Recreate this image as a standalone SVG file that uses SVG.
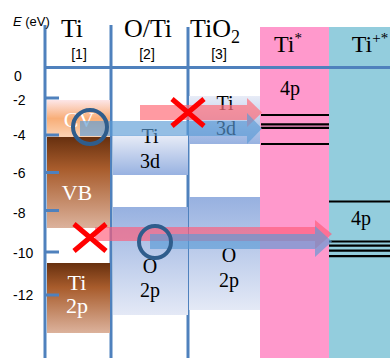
<svg xmlns="http://www.w3.org/2000/svg" width="390" height="358" viewBox="0 0 390 358">
<defs>
<style>
.ax{stroke:#4f81bd;stroke-width:3;fill:none}
.tk{stroke:#4f81bd;stroke-width:3}
.lab{font-family:"Liberation Sans",Arial,sans-serif;font-size:14px;fill:#000}
.ref{font-family:"Liberation Sans",Arial,sans-serif;font-size:14px;fill:#000;text-anchor:middle}
.hd{font-family:"Liberation Serif","Times New Roman",serif;font-size:26px;fill:#000;text-anchor:middle}
.st{font-family:"Liberation Serif","Times New Roman",serif;font-size:20px;fill:#000;text-anchor:middle}
.wt{font-family:"Liberation Serif","Times New Roman",serif;font-size:22px;fill:#fff;text-anchor:middle}
.lv{stroke:#000;stroke-width:2.2}
.xm{stroke:#ff0000;stroke-width:5;fill:none}
.ci{stroke:#2f5d8c;stroke-width:4;fill:none}
</style>
<linearGradient id="gCV" x1="0" y1="0" x2="0" y2="1">
<stop offset="0" stop-color="#fde6e8"/><stop offset="0.5" stop-color="#f8ae78"/><stop offset="1" stop-color="#fcd3b4"/>
</linearGradient>
<linearGradient id="gBr" x1="0" y1="0" x2="0" y2="1">
<stop offset="0" stop-color="#67300f"/><stop offset="0.35" stop-color="#a85c2c"/><stop offset="1" stop-color="#dcb29c"/>
</linearGradient>
<linearGradient id="gDn" x1="0" y1="0" x2="0" y2="1">
<stop offset="0" stop-color="#e8ecf7"/><stop offset="1" stop-color="#98b2e1"/>
</linearGradient>
<linearGradient id="gUp" x1="0" y1="0" x2="0" y2="1">
<stop offset="0" stop-color="#97b1e0"/><stop offset="1" stop-color="#e4e9f6"/>
</linearGradient>
</defs>

<rect width="390" height="358" fill="#fff"/>

<g id="col-ti-star">
<rect x="260" y="27" width="69" height="331" fill="#ff99cc"/>
<text class="hd" x="288" y="52" style="font-size:24px">Ti<tspan font-size="15" dy="-9">*</tspan></text>
<text class="st" x="290" y="95">4p</text>
<line class="lv" x1="261" y1="115" x2="329" y2="115"/>
<line class="lv" x1="261" y1="124.3" x2="329" y2="124.3"/>
<line class="lv" x1="261" y1="127.9" x2="329" y2="127.9"/>
<line class="lv" x1="261" y1="144" x2="329" y2="144"/>
</g>

<g id="col-ti-plus-star">
<rect x="329" y="27" width="61" height="331" fill="#93cddd"/>
<text class="hd" x="370" y="52" style="font-size:24px">Ti<tspan font-size="15" dy="-9">+*</tspan></text>
<line class="lv" x1="329" y1="201.5" x2="390" y2="201.5"/>
<text class="st" x="361" y="225">4p</text>
<line class="lv" x1="329" y1="241.5" x2="390" y2="241.5"/>
<line class="lv" x1="329" y1="245.7" x2="390" y2="245.7"/>
<line class="lv" x1="329" y1="250.7" x2="390" y2="250.7"/>
<line class="lv" x1="329" y1="256.2" x2="390" y2="256.2"/>
</g>

<g id="axes">
<line class="ax" x1="45" y1="25" x2="45" y2="358"/>
<line class="ax" x1="111" y1="25" x2="111" y2="358"/>
<line class="ax" x1="188" y1="27" x2="188" y2="358"/>
<line class="ax" x1="45" y1="67.5" x2="390" y2="67.5"/>
<text class="lab" x="13" y="26" style="font-size:13px"><tspan font-style="italic">E</tspan> (eV)</text>
<text class="lab" x="14" y="81">0</text>
<text class="lab" x="13" y="105">-2</text>
<text class="lab" x="13" y="140">-4</text>
<text class="lab" x="13" y="178">-6</text>
<text class="lab" x="13" y="218">-8</text>
<text class="lab" x="13" y="258">-10</text>
<text class="lab" x="13" y="300">-12</text>
</g>

<g id="col-ti">
<text class="hd" x="72" y="37">Ti</text>
<text class="ref" x="79" y="59">[1]</text>
</g>
<g id="col-oti">
<text class="hd" x="148" y="37">O/Ti</text>
<text class="ref" x="147" y="59">[2]</text>
</g>
<g id="col-tio2">
<text class="hd" x="215" y="37">TiO<tspan font-size="18" dy="6">2</tspan></text>
<text class="ref" x="219" y="59">[3]</text>
</g>

<g id="ti-cv">
<rect x="47" y="100" width="63" height="37" fill="url(#gCV)"/>
<text class="wt" x="79" y="127">CV</text>
</g>
<g id="ti-vb">
<rect x="47" y="137" width="63" height="91" fill="url(#gBr)"/>
<text class="wt" x="77" y="200">VB</text>
</g>
<g id="ti-2p">
<rect x="47" y="263" width="63" height="70" fill="url(#gBr)"/>
<text class="wt" x="77" y="290">Ti</text>
<text class="wt" x="77" y="313">2p</text>
</g>

<g id="ticks">
<line class="tk" x1="45" y1="98" x2="59" y2="98"/>
<line class="tk" x1="45" y1="135" x2="59" y2="135"/>
<line class="tk" x1="45" y1="172.5" x2="59" y2="172.5"/>
<line class="tk" x1="45" y1="210.5" x2="59" y2="210.5"/>
<line class="tk" x1="45" y1="252" x2="59" y2="252"/>
<line class="tk" x1="45" y1="295" x2="59" y2="295"/>
</g>

<g id="oti-3d">
<rect x="113" y="135" width="75" height="40" fill="url(#gDn)"/>
<text class="st" x="150" y="143">Ti</text>
<text class="st" x="150" y="168">3d</text>
</g>
<g id="oti-2p">
<rect x="113" y="207" width="75" height="108" fill="url(#gUp)"/>
<text class="st" x="150" y="273">O</text>
<text class="st" x="150" y="297">2p</text>
</g>
<g id="tio2-3d">
<rect x="189" y="96" width="71" height="48" fill="url(#gDn)"/>
<text class="st" x="225" y="110">Ti</text>
<text class="st" x="226" y="135">3d</text>
</g>
<g id="tio2-2p">
<rect x="189" y="197" width="71" height="113" fill="url(#gUp)"/>
<text class="st" x="229" y="262">O</text>
<text class="st" x="229" y="287">2p</text>
</g>

<g id="connectors">
<path d="M140 105 H247 V98 L262 112.5 L247 127 V120 H140 Z" fill="#ff6f7a" fill-opacity="0.7"/>
<path d="M80 121 H247 V113 L262 128.5 L247 144 V136 H80 Z" fill="#5b9bd5" fill-opacity="0.65"/>
<path d="M95 227 H315 V220 L332 234 L315 249 V241 H95 Z" fill="#ff5a78" fill-opacity="0.65"/>
<path d="M150 234 H315 V226 L332 241.5 L315 257 V249 H150 Z" fill="#5b9bd5" fill-opacity="0.65"/>
</g>

<g id="marks">
<path class="xm" d="M172 99 L204 126 M204 99 L172 126"/>
<path class="xm" d="M74 224 L106 251 M106 224 L74 251"/>
<circle class="ci" cx="90" cy="127" r="17"/>
<circle class="ci" cx="155" cy="242" r="16"/>
</g>
</svg>
